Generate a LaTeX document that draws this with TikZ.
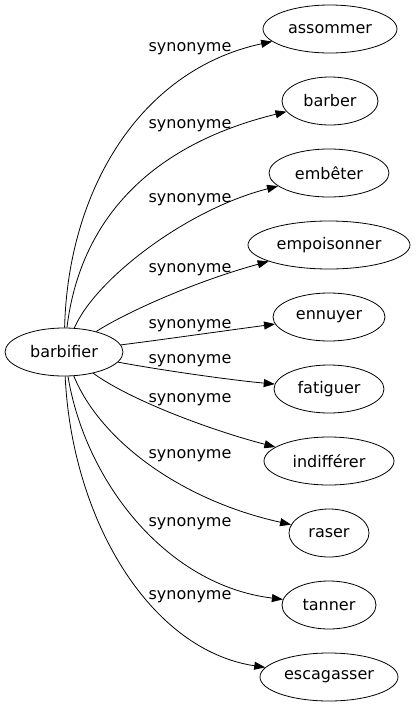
\documentclass[tikz,border=0pt]{standalone}
\usepackage{fontspec}
\setmainfont{DejaVu Sans}
\usetikzlibrary{arrows.meta,shapes.geometric}
\begin{document}
\begin{tikzpicture}[x=1pt,y=-1pt,
  word/.style={draw, ellipse, inner sep=0pt, line width=0.8pt, minimum height=48pt, font=\fontsize{16}{18}\selectfont},
  lbl/.style={inner sep=0pt, anchor=base, font=\fontsize{16}{18}\selectfont},
  syn/.style={line width=0.8pt, -{Triangle[length=11pt,width=8pt]}}]
\useasboundingbox (0,0) rectangle (416,707);
\node[word, minimum width=118pt] (b) at (64,352) {barbifier};
\node[word, minimum width=134pt] (t1) at (330,29) {assommer};
\node[word, minimum width=96pt] (t2) at (330,101) {barber};
\node[word, minimum width=120pt] (t3) at (329,173) {embêter};
\node[word, minimum width=162pt] (t4) at (329,245) {empoisonner};
\node[word, minimum width=112pt] (t5) at (329,317) {ennuyer};
\node[word, minimum width=110pt] (t6) at (329,389) {fatiguer};
\node[word, minimum width=130pt] (t7) at (329,461) {indifférer};
\node[word, minimum width=80pt] (t8) at (329,533) {raser};
\node[word, minimum width=94pt] (t9) at (329,605) {tanner};
\node[word, minimum width=138pt] (t10) at (329,677) {escagasser};
\node[lbl] (l1) at (190,51.5) {synonyme};
\node[lbl] (l2) at (190,128.5) {synonyme};
\node[lbl] (l3) at (190,202.5) {synonyme};
\node[lbl] (l4) at (190,272.5) {synonyme};
\node[lbl] (l5) at (190,328.5) {synonyme};
\node[lbl] (l6) at (190,363.5) {synonyme};
\node[lbl] (l7) at (190,402.5) {synonyme};
\node[lbl] (l8) at (190,458.5) {synonyme};
\node[lbl] (l9) at (190,526.5) {synonyme};
\node[lbl] (l10) at (190,599.5) {synonyme};
\draw[syn] (b) .. controls (68,190) and (140,70) .. (t1);
\draw[syn] (b) .. controls (80,220) and (150,145) .. (t2);
\draw[syn] (b) .. controls (95,280) and (185,210) .. (t3);
\draw[syn] (b) .. controls (130,310) and (200,280) .. (t4);
\draw[syn] (b) .. controls (160,340) and (230,330) .. (t5);
\draw[syn] (b) .. controls (160,370) and (230,380) .. (t6);
\draw[syn] (b) .. controls (130,400) and (210,430) .. (t7);
\draw[syn] (b) .. controls (100,440) and (180,500) .. (t8);
\draw[syn] (b) .. controls (85,480) and (165,585) .. (t9);
\draw[syn] (b) .. controls (72,520) and (150,650) .. (t10);
\end{tikzpicture}
\end{document}
